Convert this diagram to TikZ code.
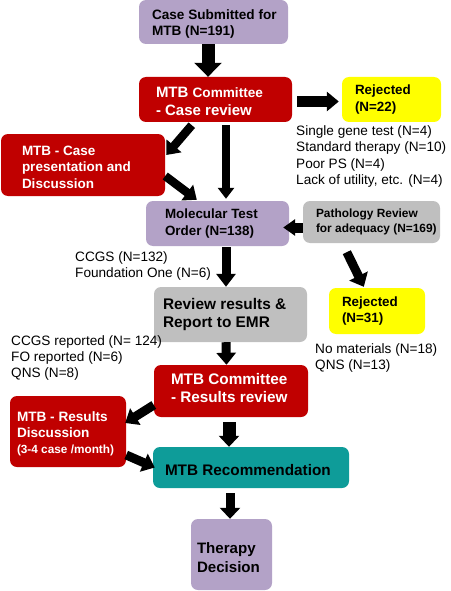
\documentclass[tikz,border=0pt]{standalone}
\usepackage{fontspec}
\setmainfont{Liberation Sans}
\usetikzlibrary{arrows.meta}
\definecolor{lav}{HTML}{B3A2C7}
\definecolor{mtbred}{HTML}{C00000}
\definecolor{yel}{HTML}{FFFF00}
\definecolor{gry}{HTML}{BFBFBF}
\definecolor{teal}{HTML}{0E9C99}
\newcommand{\fs}[2]{\fontsize{#1}{#2}\selectfont}
\tikzset{
  box/.style={rounded corners=7pt, inner sep=0pt},
  lbl/.style={inner sep=0pt, align=left, anchor=west},
  note/.style={inner sep=0pt, align=left, anchor=west, font=\fs{13.6}{16.3}},
  blk/.style n args={3}{line width=#1, -{Triangle[width=#2,length=#3]}}
}
\begin{document}
\begin{tikzpicture}[x=1pt,y=-1pt]
\useasboundingbox (0,0) rectangle (450,591);

% boxes
\node[box, fill=lav, minimum width=149pt, minimum height=44pt] (case) at (213.5,22) {};
\node[lbl, font=\bfseries\fs{13.6}{16.3}] (casel) at ([xshift=13pt,yshift=-2pt]case.west) {Case Submitted for\\MTB (N=191)};

\node[box, fill=mtbred, minimum width=153pt, minimum height=45pt] (rev1) at (215.5,99.5) {};
\node[lbl, text=white, font=\bfseries\fs{15}{18}] (rev1l) at ([xshift=17pt,yshift=-2pt]rev1.west) {MTB {\fs{13.6}{18}Committee}\\- Case review};

\node[box, fill=yel, minimum width=99pt, minimum height=45pt] (rej1) at (391.5,99.5) {};
\node[lbl, font=\bfseries\fs{13.4}{16.3}] (rej1l) at ([xshift=13pt]rej1.west) {Rejected\\(N=22)};
\node[note] (rejnote) at (296,156.5) {Single gene test (N=4)\\Standard therapy (N=10)\\Poor PS (N=4)\\Lack of utility, etc. (N=4)};

\node[box, fill=mtbred, minimum width=164pt, minimum height=62pt] (pres) at (83,165) {};
\node[lbl, text=white, font=\bfseries\fs{13.5}{16.5}] (presl) at ([xshift=21pt,yshift=-2pt]pres.west) {MTB - Case\\presentation and\\Discussion};

\node[box, fill=lav, minimum width=143pt, minimum height=45pt] (mol) at (217.5,223.5) {};
\node[lbl, font=\bfseries\fs{13.4}{16.3}] (moll) at ([xshift=19pt]mol.west) {Molecular Test\\Order (N=138)};

\node[box, fill=gry, minimum width=137pt, minimum height=42pt] (path) at (371.5,222) {};
\node[lbl, font=\bfseries\fs{11.9}{15}] (pathl) at ([xshift=13pt]path.west) {Pathology Review\\for adequacy (N=169)};

\node[box, fill=yel, minimum width=96pt, minimum height=46pt] (rej2) at (377,311) {};
\node[lbl, font=\bfseries\fs{13.4}{16.3}] (rej2l) at ([xshift=13pt]rej2.west) {Rejected\\(N=31)};
\node[note] (rej2note) at (315,358) {No materials (N=18)\\QNS (N=13)};

\node[note] (ccgs) at (75,266) {CCGS (N=132)\\Foundation One (N=6)};

\node[box, fill=gry, minimum width=153pt, minimum height=55pt] (res) at (230.5,314.5) {};
\node[lbl, font=\bfseries\fs{15.4}{18}] (resl) at ([xshift=9pt]res.west) {Review results \&\\Report to EMR};

\node[note] (repnote) at (11,358) {CCGS reported (N= 124)\\FO reported (N=6)\\QNS (N=8)};

\node[box, fill=mtbred, minimum width=154pt, minimum height=52pt] (rev2) at (231,391) {};
\node[lbl, text=white, font=\bfseries\fs{15.3}{18}] (rev2l) at ([xshift=17pt,yshift=3pt]rev2.west) {MTB Committee\\- Results review};

\node[box, fill=mtbred, minimum width=116pt, minimum height=71pt] (disc) at (68,431.5) {};
\node[lbl, text=white, font=\bfseries\fs{13.6}{16}] (discl) at ([xshift=7pt,yshift=-2pt]disc.west) {MTB - Results\\Discussion\\{\fs{11.8}{16}(3-4 case /month)}};

\node[box, fill=teal, minimum width=196pt, minimum height=41pt] (rec) at (251,467.5) {};
\node[lbl, font=\bfseries\fs{15.3}{18}] (recl) at ([xshift=12pt,yshift=-3pt]rec.west) {MTB Recommendation};

\node[box, fill=lav, minimum width=81pt, minimum height=71pt] (ther) at (231.5,554.5) {};
\node[lbl, font=\bfseries\fs{15.1}{18.5}] (therl) at ([xshift=6pt,yshift=-3pt]ther.west) {Therapy\\Decision};

% arrows
\draw[blk={13pt}{27pt}{14pt}] ([xshift=-5.5pt]case.south) -- ([xshift=-5.5pt]case.south |- rev1.north);
\draw[blk={10.7pt}{19pt}{12pt}] ([xshift=5pt,yshift=-2pt]rev1.east) -- ([xshift=-3pt,yshift=-2pt]rej1.west);
\draw[blk={8.5pt}{19pt}{12pt}] ([xshift=53pt,yshift=-3pt]rev1.south west) -- ([xshift=1pt,yshift=10pt]pres.east);
\draw[blk={8.5pt}{16pt}{11pt}] ([xshift=10.5pt,yshift=-3pt]rev1.south) -- ([xshift=8.5pt,yshift=2pt]mol.north);
\draw[blk={8.5pt}{19pt}{12pt}] ([yshift=-11pt]pres.east) -- ([xshift=51pt,yshift=1pt]mol.north west);
\draw[blk={10pt}{16pt}{12pt}] ([yshift=-5.5pt]path.west) -- ([xshift=-6pt,yshift=-4pt]mol.east);
\draw[blk={9pt}{20pt}{12pt}] ([xshift=44pt,yshift=-9pt]path.south west) -- ([xshift=35pt,yshift=1pt]rej2.north west);
\draw[blk={9pt}{19pt}{13pt}] ([xshift=8.5pt,yshift=-1pt]mol.south) -- ([xshift=-4.5pt]res.north);
\draw[blk={9pt}{19pt}{12pt}] ([xshift=-4.5pt]res.south) -- ([xshift=-4.5pt]rev2.north);
\draw[blk={9pt}{19pt}{12pt}] ([yshift=-14pt]rev2.west) -- ([xshift=-1pt,yshift=8.5pt]disc.east);
\draw[blk={9pt}{19pt}{12pt}] ([yshift=-23.5pt]disc.east) -- ([xshift=2pt]rec.west);
\draw[blk={13pt}{20pt}{11pt}] ([xshift=-2pt,yshift=-5pt]rev2.south) -- ([xshift=-2pt]rev2.south |- rec.north);
\draw[blk={9pt}{20pt}{11pt}] ([xshift=-21pt,yshift=-5pt]rec.south) -- ([xshift=-1.5pt]ther.north);
\end{tikzpicture}
\end{document}
